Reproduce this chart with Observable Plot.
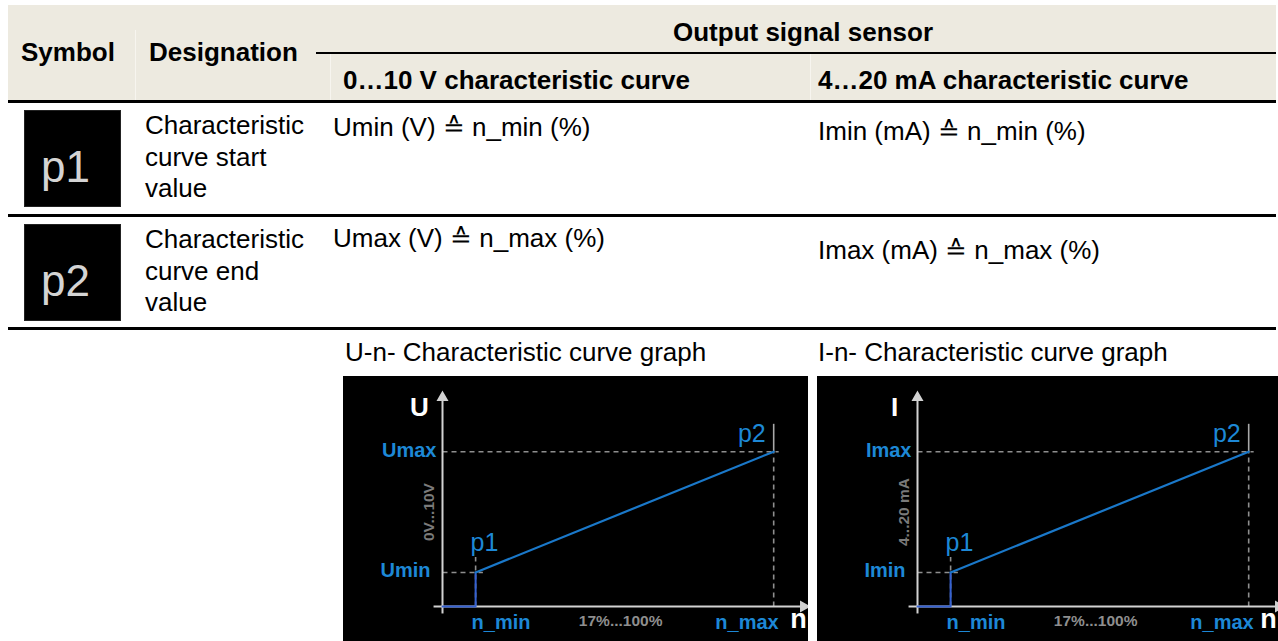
<!DOCTYPE html>
<html><head><meta charset="utf-8">
<script src="https://cdn.jsdelivr.net/npm/d3@7"></script>
<script src="https://cdn.jsdelivr.net/npm/@observablehq/plot@0.6"></script>
<style>
html,body{margin:0;padding:0;background:#fff;}
#page{position:relative;width:1278px;height:641px;overflow:hidden;font-family:"Liberation Sans",Arial,Helvetica,sans-serif;color:#000;}
.t{position:absolute;white-space:nowrap;font-size:26px;line-height:30px;}
.b{font-weight:bold;}
.rule{position:absolute;background:#000;}
.sep{position:absolute;width:1px;background:#f7f5ef;}
.icon{position:absolute;width:97px;height:97px;background:#000;color:#d4d4d4;font-size:44px;line-height:97px;text-align:center;box-sizing:border-box;padding-right:14px;border:1px solid #222;overflow:hidden;}
.icon span{position:relative;top:7px;}
.chart{position:absolute;top:376px;}
.chart svg{display:block;}
</style>
</head><body>
<div id="page"></div>
<script>
// ---------- table content ----------
const headerTop = "Output signal sensor";
const columns = ["Symbol", "Designation", "0…10 V characteristic curve", "4…20 mA characteristic curve"];
const symbols = ["p1", "p2"];
const designations = [["Characteristic", "curve start", "value"], ["Characteristic", "curve end", "value"]];
const voltageRows = ["Umin (V) \u2259 n_min (%)", "Umax (V) \u2259 n_max (%)"];
const currentRows = ["Imin (mA) \u2259 n_min (%)", "Imax (mA) \u2259 n_max (%)"];
const graphTitles = ["U-n- Characteristic curve graph", "I-n- Characteristic curve graph"];

// ---------- chart values (relative units) ----------
const nValues   = [0, 10, 10, 100];     // origin, n_min, n_min, n_max  (%)
const outValues = [0, 0, 2.2, 10];      // output at those speeds (Umin/Imin = 2.2, Umax/Imax = 10)
const nMin = 10, nMax = 100, outMin = 2.2, outMax = 10;
const xAxisExtent = [-2.7, 109];
const yAxisExtent = [-0.45, 13.5];
const nMinGuideTop = 3.2, outMinGuideEnd = 12.2, outMaxGuideEnd = 101.5, p2TickTop = 11.8;
const axisNames = ["U", "I"];
const minLabels = ["Umin", "Imin"];
const maxLabels = ["Umax", "Imax"];
const rangeLabels = ["0V...10V", "4...20 mA"];
const pointLabels = ["p1", "p2"];
const nLabels = ["n_min", "n_max", "17%...100%", "n"];

const page = document.getElementById("page");
function el(cls, css, text) {
  const d = document.createElement("div");
  d.className = cls;
  Object.assign(d.style, css);
  if (text != null) d.textContent = text;
  page.appendChild(d);
  return d;
}

// header background and separators
el("", {position:"absolute", left:"8px", top:"5px", width:"1268px", height:"96px", background:"#edeae0"});
el("sep", {left:"135px", top:"30px", height:"71px"});
el("sep", {left:"330px", top:"54px", height:"47px"});
el("sep", {left:"810px", top:"54px", height:"47px"});

// header texts
el("t b", {left:"21px", top:"37px"}, columns[0]);
el("t b", {left:"149px", top:"37px"}, columns[1]);
el("t b", {left:"330px", top:"17px", width:"946px", textAlign:"center"}, headerTop);
el("t b", {left:"343px", top:"65px"}, columns[2]);
el("t b", {left:"818px", top:"65px"}, columns[3]);

// rules
el("rule", {left:"316px", top:"52px", width:"960px", height:"2px"});
el("rule", {left:"8px", top:"100px", width:"1268px", height:"3px"});
el("rule", {left:"8px", top:"214px", width:"1268px", height:"3px"});
el("rule", {left:"8px", top:"327px", width:"1268px", height:"3px"});

// body rows
const rowTops = [101, 215];
symbols.forEach((s, i) => {
  const top = rowTops[i];
  const icon = el("icon", {left:"24px", top:(top + 9) + "px"});
  const sp = document.createElement("span");
  sp.textContent = s;
  icon.appendChild(sp);
  designations[i].forEach((line, j) => {
    el("t", {left:"145px", top:(top + 9 + j * 31.5) + "px"}, line);
  });
});
el("t", {left:"333px", top:"112px"}, voltageRows[0]);
el("t", {left:"818px", top:"116px"}, currentRows[0]);
el("t", {left:"333px", top:"223px"}, voltageRows[1]);
el("t", {left:"818px", top:"235px"}, currentRows[1]);

// graph titles
el("t", {left:"345px", top:"337px"}, graphTitles[0]);
el("t", {left:"818px", top:"337px"}, graphTitles[1]);

// ---------- charts ----------
const blueText = "#1d88d6";
const blueLine = "#1a78c9";
const blueStep = "#3561d2";
const grey = "#8e8e8e";
const axisCol = "#d2d2d2";

function chart(k, width, marginLeft, marginRight, nDx) {
  const curve = nValues.map((n, i) => ({n, v: outValues[i]}));
  const step = curve.slice(0, 3);
  const rise = curve.slice(2);
  const dashed = [
    {x1: 0, y1: outMax, x2: outMaxGuideEnd, y2: outMax},
    {x1: 0, y1: outMin, x2: outMinGuideEnd, y2: outMin},
    {x1: nMin, y1: 0, x2: nMin, y2: nMinGuideTop},
    {x1: nMax, y1: 0, x2: nMax, y2: outMax}
  ];
  const axes = [
    {x1: xAxisExtent[0], y1: 0, x2: xAxisExtent[1], y2: 0},
    {x1: 0, y1: yAxisExtent[0], x2: 0, y2: yAxisExtent[1]}
  ];
  const heads = [
    {x: xAxisExtent[1], y: 0, r: 90},
    {x: 0, y: yAxisExtent[1], r: 0}
  ];
  const font = {fontFamily: "Liberation Sans, Arial, sans-serif"};
  return Plot.plot({
    width, height: 265,
    marginLeft, marginRight, marginTop: 21, marginBottom: 35,
    x: {domain: [0, xAxisExtent[1]], axis: null},
    y: {domain: [0, yAxisExtent[1]], axis: null},
    style: {background: "#000", fontFamily: "Liberation Sans, Arial, sans-serif"},
    marks: [
      Plot.link(dashed, {x1: "x1", y1: "y1", x2: "x2", y2: "y2", stroke: grey, strokeWidth: 1.6, strokeDasharray: "5,4"}),
      Plot.link([{x1: nMax, y1: outMax, x2: nMax, y2: p2TickTop}], {x1: "x1", y1: "y1", x2: "x2", y2: "y2", stroke: "#a8a8a8", strokeWidth: 1.6}),
      Plot.link(axes, {x1: "x1", y1: "y1", x2: "x2", y2: "y2", stroke: axisCol, strokeWidth: 2}),
      Plot.dot(heads, {x: "x", y: "y", rotate: "r", symbol: "triangle", r: 3.5, fill: axisCol, stroke: axisCol}),
      Plot.line(step, {x: "n", y: "v", stroke: blueStep, strokeWidth: 2}),
      Plot.line(rise, {x: "n", y: "v", stroke: blueLine, strokeWidth: 2.2}),
      // axis names
      Plot.text([axisNames[k]], {x: () => 0, y: () => yAxisExtent[1], text: d => d, dx: -23, dy: 10, fill: "#fff", fontSize: 26, fontWeight: "bold", ...font}),
      Plot.text([nLabels[3]], {x: () => xAxisExtent[1], y: () => 0, text: d => d, dx: nDx, dy: 13, fill: "#fff", fontSize: 27, fontWeight: "bold", ...font}),
      // value labels
      Plot.text([maxLabels[k]], {x: () => 0, y: () => outMax, text: d => d, dx: -6, dy: -1, textAnchor: "end", fill: blueText, fontSize: 20, fontWeight: "bold", ...font}),
      Plot.text([minLabels[k]], {x: () => 0, y: () => outMin, text: d => d, dx: -12, dy: -2, textAnchor: "end", fill: blueText, fontSize: 20, fontWeight: "bold", ...font}),
      Plot.text([pointLabels[0]], {x: () => nMin, y: () => outMin, text: d => d, dx: -5, dy: -29, textAnchor: "start", fill: blueText, fontSize: 25, ...font}),
      Plot.text([pointLabels[1]], {x: () => nMax, y: () => outMax, text: d => d, dx: -8, dy: -18, textAnchor: "end", fill: blueText, fontSize: 25, ...font}),
      Plot.text([nLabels[0]], {x: () => nMin, y: () => 0, text: d => d, dx: -4, dy: 16, textAnchor: "start", fill: blueText, fontSize: 20, fontWeight: "bold", ...font}),
      Plot.text([nLabels[1]], {x: () => nMax, y: () => 0, text: d => d, dx: 5, dy: 16, textAnchor: "end", fill: blueText, fontSize: 20, fontWeight: "bold", ...font}),
      Plot.text([nLabels[2]], {x: () => (nMin + nMax) / 2, y: () => 0, text: d => d, dx: -4, dy: 15, fill: grey, fontSize: 15.5, fontWeight: "bold", ...font}),
      Plot.text([rangeLabels[k]], {x: () => 0, y: () => (outMin + outMax) / 2, text: d => d, dx: -13, rotate: -90, fill: "#7a7a7a", fontSize: 15.5, fontWeight: "bold", ...font})
    ]
  });
}

const c1 = document.createElement("div");
c1.className = "chart";
c1.style.left = "343px";
c1.appendChild(chart(0, 465, 99, 5, -5));
page.appendChild(c1);

const c2 = document.createElement("div");
c2.className = "chart";
c2.style.left = "817px";
c2.appendChild(chart(1, 461, 100, 0, -10));
page.appendChild(c2);
</script>
</body></html>
